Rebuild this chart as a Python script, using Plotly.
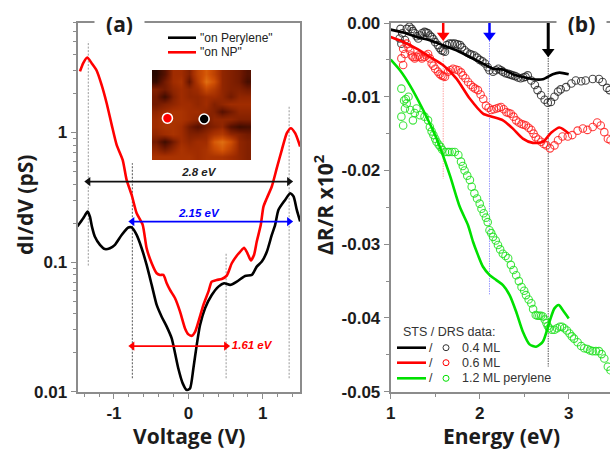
import plotly.graph_objects as go

W, H = 610, 449

# ---- panel (a): STS spectra
np_voltage = [-1.457,-1.413,-1.359,-1.300,-1.233,-1.166,-1.099,-1.031,-0.964,-0.883,-0.830,-0.762,-0.695,-0.614,-0.561,-0.493,-0.426,-0.381,-0.336,-0.291,-0.247,-0.179,-0.112,-0.045,0.0,0.045,0.090,0.135,0.202,0.269,0.314,0.381,0.448,0.516,0.583,0.650,0.695,0.749,0.794,0.839,0.883,0.919,0.973,1.009,1.054,1.121,1.188,1.256,1.323,1.377,1.435,1.502]
np_didv = [2.96,3.43,3.79,3.43,3.01,2.33,1.69,1.15,0.803,0.615,0.431,0.330,0.238,0.194,0.128,0.098,0.082,0.0796,0.0796,0.0687,0.061,0.0526,0.0415,0.0308,0.0277,0.0270,0.0290,0.0347,0.0467,0.0592,0.0707,0.0728,0.0741,0.0787,0.098,0.112,0.120,0.129,0.117,0.103,0.114,0.144,0.194,0.268,0.311,0.383,0.531,0.735,0.989,1.08,0.989,0.780]
per_voltage = [-1.493,-1.413,-1.354,-1.323,-1.296,-1.256,-1.188,-1.121,-1.054,-0.987,-0.897,-0.807,-0.762,-0.695,-0.628,-0.561,-0.493,-0.426,-0.359,-0.291,-0.224,-0.179,-0.135,-0.076,-0.022,0.022,0.067,0.112,0.157,0.224,0.314,0.404,0.480,0.561,0.650,0.762,0.852,0.919,0.987,1.054,1.121,1.166,1.211,1.300,1.368,1.413,1.457,1.502]
per_didv = [0.188,0.218,0.245,0.224,0.188,0.157,0.136,0.126,0.128,0.136,0.162,0.185,0.185,0.162,0.128,0.0951,0.0667,0.0467,0.0379,0.0318,0.0258,0.0198,0.0151,0.0116,0.0103,0.0106,0.0151,0.0229,0.0327,0.0440,0.0557,0.0647,0.0687,0.0667,0.0707,0.0782,0.0796,0.0923,0.101,0.120,0.162,0.194,0.253,0.302,0.340,0.321,0.253,0.206]

gap_edges_v = [-1.345, -0.753, 0.507, 1.354]
gap_low = [0.094, 0.0127, 0.0127, 0.0127]
gap_high = [5.04, 0.58, 0.119, 1.59]
gap_labels = ["2.8 eV", "2.15 eV", "1.61 eV"]

# STM inset image brightness
stm = [
 [.05,.2,.45,.45,.35,.6,.75,.6,.4,.35,.3,.2],
 [.1,.3,.45,.5,.25,.55,.85,.7,.4,.35,.3,.15],
 [.35,.3,.4,.45,.4,.45,.65,.55,.4,.35,.35,.3],
 [.3,.12,.35,.45,.4,.4,.45,.45,.4,.3,.4,.4],
 [.3,.35,.4,.45,.45,.4,.45,.35,.4,.45,.45,.45],
 [.4,.45,.5,.5,.45,.45,.4,.35,.2,.3,.4,.4],
 [.45,.5,.5,.5,.45,.4,.3,.4,.4,.4,.35,.35],
 [.45,.5,.5,.45,.3,.2,.3,.35,.4,.2,.12,.15],
 [.4,.45,.5,.45,.35,.35,.4,.5,.55,.4,.35,.3],
 [.3,.12,.3,.45,.4,.45,.45,.75,.85,.7,.4,.35],
 [.4,.3,.4,.5,.45,.45,.5,.65,.75,.6,.4,.35],
 [.5,.5,.5,.5,.5,.45,.5,.5,.5,.45,.4,.35],
]

# ---- panel (b): STS-derived curves
e_04 = [1.0,1.142,1.291,1.440,1.590,1.739,1.888,2.037,2.149,2.261,2.373,2.485,2.597,2.709,2.821,2.896,3.0]
r_04 = [-0.0009,-0.0013,-0.0019,-0.00235,-0.00303,-0.0037,-0.00461,-0.00551,-0.00619,-0.00632,-0.00695,-0.00732,-0.00763,-0.00763,-0.00695,-0.00673,-0.00695]
e_06 = [1.0,1.142,1.291,1.440,1.590,1.739,1.888,2.037,2.149,2.261,2.373,2.485,2.597,2.709,2.802,2.896,3.0]
r_06 = [-0.0019,-0.00257,-0.00348,-0.00461,-0.00574,-0.00754,-0.01025,-0.01228,-0.01274,-0.01319,-0.01432,-0.01567,-0.01626,-0.01612,-0.0149,-0.01418,-0.01499]
e_12 = [1.0,1.104,1.216,1.366,1.515,1.664,1.776,1.869,1.925,1.981,2.037,2.112,2.187,2.261,2.336,2.410,2.485,2.560,2.634,2.709,2.784,2.840,2.888,2.933,3.0]
r_12 = [-0.00497,-0.00641,-0.00845,-0.01183,-0.01567,-0.02064,-0.02493,-0.02742,-0.02967,-0.03148,-0.03306,-0.03419,-0.03487,-0.03555,-0.0369,-0.03916,-0.04187,-0.04358,-0.0439,-0.04322,-0.04051,-0.0387,-0.03825,-0.03893,-0.04006]

# ---- panel (b): DRS data
drs_e_04 = [1.11,1.13,1.10,1.12,1.16,1.18,1.21,1.235,1.25,1.27,1.29,1.31,1.33,1.35,1.38,1.40,1.42,1.44,1.46,1.48,1.50,1.53,1.55,1.57,1.59,1.61,1.63,1.66,1.69,1.72,1.75,1.78,1.80,1.83,1.86,1.89,1.91,1.94,1.97,2.00,2.03,2.06,2.09,2.11,2.15,2.18,2.21,2.24,2.26,2.29,2.32,2.345,2.37,2.40,2.43,2.46,2.49,2.515,2.54,2.58,2.62,2.65,2.69,2.73,2.765,2.80,2.84,2.88,2.91,2.97,3.03,3.08,3.14,3.19,3.27,3.34,3.38,3.43,3.46]
drs_r_04 = [-0.0008,-0.0014,-0.0021,-0.0028,-0.0023,-0.0008,-0.0005,-0.0008,-0.0011,-0.0014,-0.0018,-0.0021,-0.0017,-0.0014,-0.0012,-0.0013,-0.0014,-0.0017,-0.0019,-0.0022,-0.0026,-0.0030,-0.0034,-0.0037,-0.0038,-0.0039,-0.0030,-0.0028,-0.0028,-0.0028,-0.0029,-0.0030,-0.0033,-0.0037,-0.0040,-0.0042,-0.0043,-0.0044,-0.0047,-0.0050,-0.0052,-0.0055,-0.0060,-0.0064,-0.0066,-0.0064,-0.0062,-0.0064,-0.0066,-0.0068,-0.0069,-0.0070,-0.0071,-0.0072,-0.0074,-0.0075,-0.0074,-0.0073,-0.0071,-0.0078,-0.0084,-0.0091,-0.0098,-0.0104,-0.0108,-0.0107,-0.0100,-0.0093,-0.0090,-0.0087,-0.0082,-0.0078,-0.0079,-0.0078,-0.0076,-0.0076,-0.0080,-0.0088,-0.0091]
drs_e_06 = [1.14,1.12,1.16,1.14,1.18,1.20,1.22,1.235,1.25,1.27,1.29,1.31,1.33,1.35,1.38,1.40,1.42,1.44,1.46,1.48,1.50,1.53,1.55,1.57,1.59,1.61,1.645,1.67,1.70,1.73,1.76,1.79,1.81,1.84,1.87,1.90,1.925,1.95,1.98,2.01,2.04,2.07,2.10,2.13,2.16,2.19,2.215,2.24,2.27,2.30,2.325,2.35,2.38,2.41,2.44,2.47,2.495,2.52,2.55,2.58,2.605,2.63,2.66,2.69,2.72,2.75,2.79,2.84,2.88,2.93,2.99,3.04,3.10,3.16,3.21,3.27,3.32,3.36,3.40,3.44,3.47]
drs_r_06 = [-0.0057,-0.0048,-0.0042,-0.0035,-0.0028,-0.0033,-0.0038,-0.0044,-0.0046,-0.0048,-0.0046,-0.0044,-0.0046,-0.0048,-0.0046,-0.0044,-0.0042,-0.0048,-0.0055,-0.0058,-0.0062,-0.0066,-0.0069,-0.0071,-0.0072,-0.0073,-0.0066,-0.0064,-0.0062,-0.0063,-0.0064,-0.0067,-0.0071,-0.0075,-0.0080,-0.0084,-0.0087,-0.0089,-0.0091,-0.0097,-0.0103,-0.0112,-0.0115,-0.0118,-0.0117,-0.0116,-0.0115,-0.0114,-0.0117,-0.0121,-0.0122,-0.0123,-0.0127,-0.0132,-0.0135,-0.0137,-0.0138,-0.0139,-0.0142,-0.0145,-0.0150,-0.0155,-0.0158,-0.0161,-0.0164,-0.0166,-0.0170,-0.0166,-0.0159,-0.0154,-0.0154,-0.0152,-0.0146,-0.0143,-0.0145,-0.0141,-0.0135,-0.0139,-0.0148,-0.0157,-0.0159]
drs_e_12 = [1.12,1.15,1.18,1.20,1.14,1.12,1.16,1.17,1.22,1.25,1.27,1.29,1.33,1.38,1.42,1.44,1.46,1.48,1.50,1.515,1.54,1.56,1.58,1.61,1.64,1.66,1.69,1.72,1.76,1.79,1.81,1.83,1.86,1.89,1.91,1.94,1.97,2.00,2.02,2.045,2.07,2.09,2.11,2.13,2.15,2.18,2.205,2.23,2.26,2.29,2.32,2.35,2.38,2.41,2.44,2.47,2.50,2.52,2.55,2.58,2.60,2.63,2.65,2.67,2.69,2.71,2.73,2.75,2.765,2.78,2.81,2.84,2.87,2.90,2.925,2.95,2.98,3.01,3.035,3.06,3.10,3.14,3.175,3.21,3.24,3.27,3.305,3.34,3.37,3.40,3.44,3.47]
drs_r_12 = [-0.0089,-0.0105,-0.0109,-0.0100,-0.0139,-0.0127,-0.0116,-0.0103,-0.0118,-0.0132,-0.0122,-0.0116,-0.0125,-0.0127,-0.0132,-0.0141,-0.0147,-0.0152,-0.0157,-0.0161,-0.0165,-0.0168,-0.0172,-0.0175,-0.0175,-0.0175,-0.0175,-0.0175,-0.0179,-0.0188,-0.0194,-0.0200,-0.0207,-0.0213,-0.0222,-0.0231,-0.0238,-0.0245,-0.0252,-0.0258,-0.0264,-0.0270,-0.0281,-0.0285,-0.0290,-0.0295,-0.0301,-0.0307,-0.0313,-0.0316,-0.0319,-0.0328,-0.0335,-0.0342,-0.0350,-0.0358,-0.0363,-0.0369,-0.0375,-0.0380,-0.0388,-0.0396,-0.0397,-0.0397,-0.0397,-0.0398,-0.0402,-0.0407,-0.0411,-0.0414,-0.0416,-0.0416,-0.0414,-0.0412,-0.0412,-0.0414,-0.0417,-0.0421,-0.0425,-0.0428,-0.0433,-0.0438,-0.0441,-0.0442,-0.0444,-0.0445,-0.0445,-0.0445,-0.0449,-0.0455,-0.0466,-0.0471]

marker_energies = [1.59, 2.11, 2.77]
marker_low = [-0.0211, -0.0368, -0.0466]
marker_colors = ["#ff0000", "#0000ff", "#000000"]
marker_pale = ["rgba(255,90,90,0.55)", "rgba(90,90,255,0.6)", "rgba(40,40,40,0.8)"]
marker_tips = [-0.0017, -0.0017, -0.0039]

legend_a = ['"on Perylene"', '"on NP"']
legend_b = ["0.4 ML", "0.6 ML", "1.2 ML perylene"]
legend_b_colors = ["#000000", "#ff0000", "#00e000"]

TICK = "Liberation Sans"
TITLE = "Open Sans"
AXC = "#8c8c8c"
TXT = "#1c1c1c"

def fx(p): return p / W
def fy(p): return 1 - p / H

fig = go.Figure()

# gap guide lines (a)
for v, lo, hi, c in zip(gap_edges_v, gap_low, gap_high, ["#9a9a9a", "#555555", "#999999", "#999999"]):
    fig.add_trace(go.Scatter(x=[v, v], y=[lo, hi], mode="lines", xaxis="x", yaxis="y", showlegend=False,
                             line=dict(color=c, width=1, dash="2px,1.5px")))
# curves (a)
fig.add_trace(go.Scatter(x=per_voltage, y=per_didv, mode="lines", name=legend_a[0], xaxis="x", yaxis="y", showlegend=False,
                         line=dict(color="#000000", width=2.6, shape="spline", smoothing=0.6)))
fig.add_trace(go.Scatter(x=np_voltage, y=np_didv, mode="lines", name=legend_a[1], xaxis="x", yaxis="y", showlegend=False,
                         line=dict(color="#ff0000", width=2.6, shape="spline", smoothing=0.6)))
# gap arrows (a)
arrows = [(gap_edges_v[0], gap_edges_v[3], 0.418, "#111111"),
          (gap_edges_v[1], gap_edges_v[3], 0.2055, "#0000ff"),
          (gap_edges_v[1], gap_edges_v[2], 0.0225, "#ff0000")]
for x0, x1, yy, c in arrows:
    fig.add_trace(go.Scatter(x=[x0, x1], y=[yy, yy], mode="lines+markers", xaxis="x", yaxis="y", showlegend=False,
                             line=dict(color=c, width=1.8),
                             marker=dict(symbol=["triangle-left", "triangle-right"], size=8, color=c)))
fig.add_trace(go.Scatter(x=[0.14, 0.14, 0.85], y=[0.487, 0.236, 0.0225], mode="text", xaxis="x", yaxis="y", showlegend=False,
                         text=gap_labels, textposition="middle center",
                         textfont=dict(family=TICK, size=11.5, color=["#222222", "#0000ff", "#ff0000"], weight="bold", style="italic")))

# inset
fig.add_trace(go.Heatmap(z=stm, xaxis="x3", yaxis="y3", zsmooth="best", showscale=False, zmin=0, zmax=1, hoverinfo="skip",
                         colorscale=[[0, "#1a0500"], [0.25, "#641400"], [0.45, "#a02c00"], [0.7, "#d05004"], [1, "#f09020"]]))
fig.add_trace(go.Scatter(x=[1.37, 5.82], y=[5.93, 6.03], mode="markers", xaxis="x3", yaxis="y3", showlegend=False,
                         marker=dict(size=10, color=["#ff0000", "#000000"], line=dict(color="white", width=1.6))))

# guide lines and arrows (b)
for e, lo, c in zip(marker_energies, marker_low, marker_pale):
    fig.add_trace(go.Scatter(x=[e, e], y=[0, lo], mode="lines", xaxis="x2", yaxis="y2", showlegend=False,
                             line=dict(color=c, width=1, dash="1.5px,1px")))
# DRS
for e, r, c, n in zip([drs_e_04, drs_e_06, drs_e_12], [drs_r_04, drs_r_06, drs_r_12],
                      ["rgba(30,30,30,0.8)", "rgba(255,30,30,0.85)", "rgba(30,225,30,0.85)"], legend_b):
    fig.add_trace(go.Scatter(x=e, y=r, mode="markers", name="DRS " + n, xaxis="x2", yaxis="y2", showlegend=False,
                             marker=dict(symbol="circle-open", size=7.5, color=c, line=dict(width=1.1))))
# STS
for e, r, c, n in zip([e_04, e_06, e_12], [r_04, r_06, r_12], legend_b_colors, legend_b):
    fig.add_trace(go.Scatter(x=e, y=r, mode="lines", name="STS " + n, xaxis="x2", yaxis="y2", showlegend=False,
                             line=dict(color=c, width=2.6, shape="spline", smoothing=0.7)))
for e, tip, c, wd in zip(marker_energies, marker_tips, marker_colors, [2.5, 2.5, 3]):
    fig.add_trace(go.Scatter(x=[e, e], y=[0, tip], mode="lines", xaxis="x2", yaxis="y2", showlegend=False,
                             line=dict(color=c, width=wd)))
    fig.add_trace(go.Scatter(x=[e], y=[tip], mode="markers", xaxis="x2", yaxis="y2", showlegend=False,
                             marker=dict(symbol="triangle-down", size=11, color=c)))

annos = []
shapes = []
# panel labels
for cx, s in [(119, "(a)"), (581, "(b)")]:
    annos.append(dict(x=fx(cx), y=fy(24), xref="paper", yref="paper", text=f"<b>{s}</b>", showarrow=False,
                      font=dict(family=TITLE, size=21, color=TXT), bgcolor="white", width=47, height=22,
                      xanchor="center", yanchor="middle"))
# axis titles
for t, cx, cy, ang in [("Voltage (V)", 188.5, 436, 0), ("Energy (eV)", 501.5, 436, 0),
                       ("dI/dV (pS)", 25, 205, -90), ("ΔR/R x10<sup>2</sup>", 323, 205, -90)]:
    annos.append(dict(x=fx(cx), y=fy(cy), xref="paper", yref="paper", text=f"<b>{t}</b>", showarrow=False,
                      textangle=ang, xanchor="center", yanchor="middle",
                      font=dict(family=TITLE, size=21, color=TXT)))
# legend (a)
for lbl, c, py in zip(legend_a, ["#000000", "#ff0000"], [37.7, 52.3]):
    shapes.append(dict(type="line", xref="paper", yref="paper", x0=fx(168), x1=fx(196), y0=fy(py), y1=fy(py),
                       line=dict(color=c, width=2.6)))
    annos.append(dict(x=fx(198), y=fy(py), xref="paper", yref="paper", text=lbl, showarrow=False, xanchor="left",
                      yanchor="middle", font=dict(family=TICK, size=12, color="#222222")))
# legend (b)
annos.append(dict(x=fx(400.5), y=fy(332), xref="paper", yref="paper", text="STS / DRS data:", showarrow=False,
                  xanchor="left", yanchor="middle", font=dict(family=TICK, size=12.5, color="#333333")))
for lbl, c, py in zip(legend_b, legend_b_colors, [347.7, 362.7, 378.3]):
    shapes.append(dict(type="line", xref="paper", yref="paper", x0=fx(397), x1=fx(426), y0=fy(py), y1=fy(py),
                       line=dict(color=c, width=2.6)))
    shapes.append(dict(type="circle", xref="paper", yref="paper", x0=fx(443), x1=fx(449), y0=fy(py + 3), y1=fy(py - 3),
                       line=dict(color=c if c != "#000000" else "#333333", width=1)))
    annos.append(dict(x=fx(430.5), y=fy(py), xref="paper", yref="paper", text="/", showarrow=False, xanchor="center",
                      yanchor="middle", font=dict(family=TICK, size=12.5, color="#333333")))
    annos.append(dict(x=fx(459.5), y=fy(py), xref="paper", yref="paper", text=lbl, showarrow=False, xanchor="left",
                      yanchor="middle", font=dict(family=TICK, size=12.5, color="#333333")))

ticks = dict(ticks="outside", tickcolor=AXC, tickwidth=1.2, ticklen=5, showgrid=False, zeroline=False,
             showline=True, linecolor=AXC, linewidth=2, automargin=False,
             tickfont=dict(family=TICK, size=17, color=TXT, weight="bold"))
minor = dict(ticks="outside", ticklen=3, tickcolor=AXC, tickwidth=1)

log_minor = [m * d for d in (0.01, 0.1, 1) for m in range(2, 10)]
volt_minor = [-1.4, -1.2, -0.8, -0.6, -0.4, -0.2, 0.2, 0.4, 0.6, 0.8, 1.2, 1.4]

fig.update_layout(
    template="none",
    width=W, height=H, margin=dict(l=0, r=0, t=0, b=0, pad=0), paper_bgcolor="white", plot_bgcolor="rgba(0,0,0,0)",
    showlegend=False, annotations=annos, shapes=shapes,
    xaxis=dict(domain=[fx(77.5), fx(300)], range=[-1.49, 1.5], mirror=True, anchor="y",
               tickvals=[-1, 0, 1], ticktext=["-1", "0", "1"], minor=dict(tickvals=volt_minor, **minor), **ticks),
    yaxis=dict(domain=[fy(391.7), fy(23)], type="log", range=[-2, 0.845], mirror=True, anchor="x",
               tickvals=[0.01, 0.1, 1], ticktext=["0.01", "0.1", "1"], minor=dict(tickvals=log_minor, **minor), **ticks),
    xaxis2=dict(domain=[fx(390.7), 1], range=[1, 3.464], mirror=True, anchor="y2",
                tickvals=[1, 2, 3], ticktext=["1", "2", "3"], minor=dict(tickvals=[1.5, 2.5], **minor), **ticks),
    yaxis2=dict(domain=[fy(391.7), fy(23)], range=[-0.05, 0], anchor="x2",
                tickvals=[0, -0.01, -0.02, -0.03, -0.04, -0.05],
                ticktext=["0.00", "-0.01", "-0.02", "-0.03", "-0.04", "-0.05"],
                minor=dict(tickvals=[-0.005, -0.015, -0.025, -0.035, -0.045], **minor), **ticks),
    xaxis3=dict(domain=[fx(152), fx(251)], range=[-0.5, 11.5], anchor="y3", visible=False),
    yaxis3=dict(domain=[fy(160), fy(70)], range=[11.5, -0.5], anchor="x3", visible=False),
)

fig.write_html("out.html", config={"displayModeBar": False},
               post_script="document.body.style.margin='0';document.body.style.overflow='hidden';")
